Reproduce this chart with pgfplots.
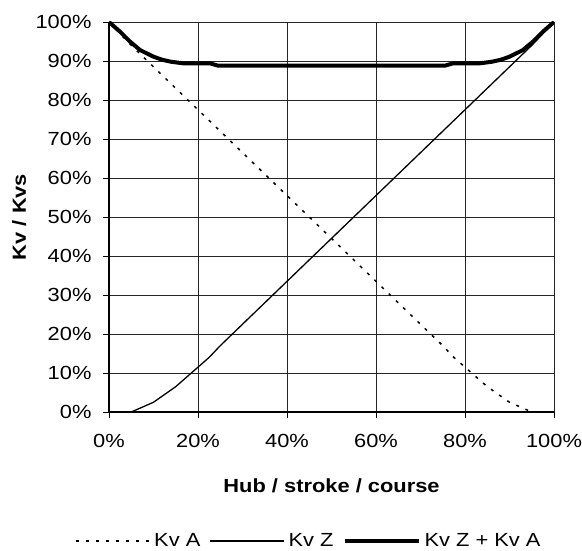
\documentclass[border=0pt]{standalone}
\usepackage{pgfplots}
\pgfplotsset{compat=1.18}
\usepackage{fontspec}
\setmainfont[FakeStretch=1.15]{Liberation Sans}
\begin{document}
\begin{tikzpicture}
\useasboundingbox (-109bp,-139bp) rectangle (473bp,412bp);
\begin{axis}[
  scale only axis, width=445bp, height=390bp,
  at={(0,0)}, anchor=south west,
  xmin=0, xmax=100, ymin=0, ymax=100,
  xtick={0,20,40,60,80,100}, ytick={0,10,...,100},
  xticklabel={\pgfmathprintnumber{\tick}\%},
  yticklabel={\pgfmathprintnumber{\tick}\%},
  /pgf/number format/assume math mode=true,
  tick label style={font=\fontsize{19bp}{23bp}\selectfont},
  yticklabel style={xshift=-8bp},
  xticklabel style={yshift=-13bp},
  grid=major,
  major grid style={black!85, line width=0.8bp},
  axis lines=left,
  axis line style={black, line width=1.6bp, -},
  tick align=outside, major tick length=6bp,
  tick style={black, line width=0.8bp},
  xlabel={\bfseries Hub / stroke / course},
  ylabel={\bfseries Kv / Kvs},
  label style={font=\fontsize{19bp}{23bp}\selectfont},
  xlabel style={yshift=-24bp},
  ylabel style={yshift=2.5bp},
  legend columns=-1,
  legend style={draw=none, fill=none, at={(-0.0764,-0.331)}, anchor=west,
    font=\fontsize{19bp}{23bp}\selectfont, inner sep=0pt,
    nodes={inner xsep=3.5bp},
    /tikz/every even column/.append style={column sep=6bp}},
  legend image code/.code={\draw[#1] (0bp,0bp) -- (74bp,0bp);},
]
\addplot[black, line width=1.5bp, dash pattern=on 3bp off 7bp] coordinates {
(0,100) (5,94) (10,88.5) (15,83) (20,77.5) (25,72) (30,66.5) (35,61) (40,55.5)
(45,50) (50,44.5) (55,39) (60,33.5) (65,28) (70,22.5) (75,17) (77.5,14)
(80,11.5) (82.5,9) (85,6.5) (87.5,4.5) (90,2.5) (95,0) (100,0)};
\addlegendentry{Kv A}
\addplot[black, line width=1.3bp] coordinates {
(0,0) (5,0) (10,2.5) (12.5,4.5) (15,6.5) (17.5,9) (20,11.5) (22.5,14) (25,17)
(30,22.5) (35,28) (40,33.5) (45,39) (50,44.5) (55,50) (60,55.5) (65,61)
(70,66.5) (75,72) (80,77.5) (85,83) (90,88.5) (95,94) (100,100)};
\addlegendentry{Kv Z}
\addplot[black, line width=4bp, line join=round] coordinates {
(0,100) (2.5,97.5) (4.7,95) (7,92.8) (10,91.1) (12,90.3) (14,89.8) (16.7,89.4)
(22.7,89.4) (24.5,88.8) (75.5,88.8) (77.3,89.4) (83.3,89.4) (86,89.8)
(88,90.3) (90,91.1) (93,92.8) (95.3,95) (97.5,97.5) (100,100)};
\addlegendentry{Kv Z + Kv A}
\end{axis}
\end{tikzpicture}
\end{document}
